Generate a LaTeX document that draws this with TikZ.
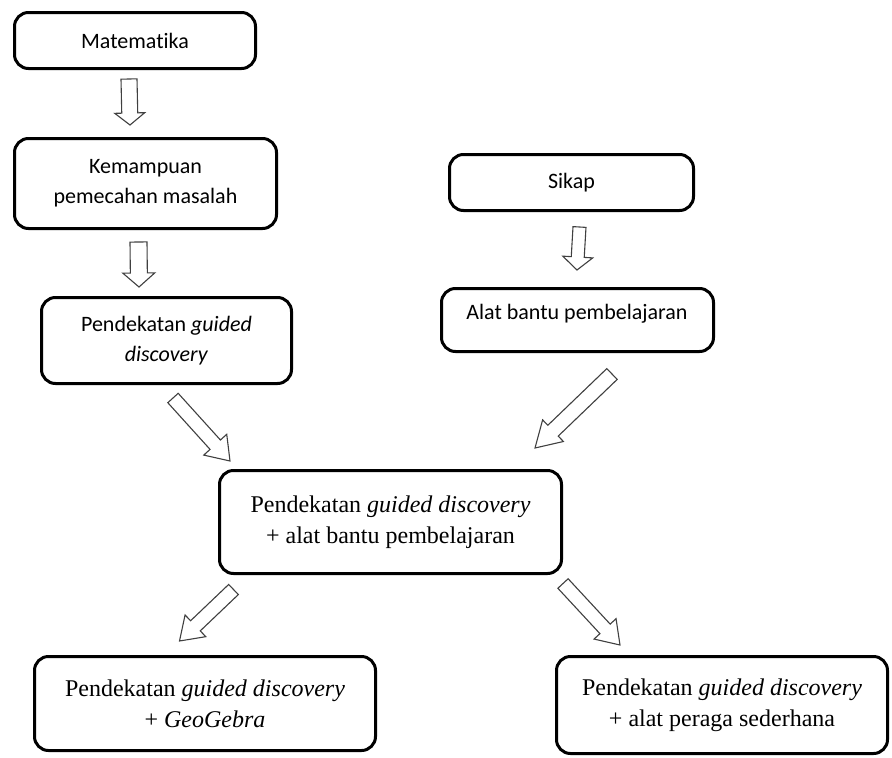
\documentclass[tikz,border=0pt]{standalone}
\usepackage{fontspec}
\setmainfont{Liberation Serif}
\newfontfamily\calfont[Ligatures=NoCommon]{Carlito}
\usetikzlibrary{calc}
\tikzset{
  box/.style={draw=black, line width=3pt, rounded corners=14pt, fill=white, align=center, inner sep=0pt},
  sansbox/.style={box, font=\calfont\fontsize{22}{30}\selectfont},
  serifbox/.style={box, font=\fontsize{24}{31}\selectfont},
  barrow/.style={draw=black!75, line width=1.1pt, fill=white, line join=miter}
}
\newcommand{\blockarrow}[5]{%
  \coordinate (hb) at ($(#2)!#5!(#1)$);
  \draw[barrow] ($(#1)!#3!90:(#2)$) -- ($(hb)!#3!90:(#2)$) -- ($(hb)!#4!90:(#2)$) -- (#2)
    -- ($(hb)!#4!-90:(#2)$) -- ($(hb)!#3!-90:(#2)$) -- ($(#1)!#3!-90:(#2)$) -- cycle;
}
\begin{document}
\begin{tikzpicture}[x=1pt,y=-1pt]
\useasboundingbox (0,0) rectangle (892,758);
% boxes
\node[sansbox, minimum width=241pt, minimum height=56pt] (mat) at (135,40.5) {Matematika};
\node[sansbox, minimum width=262pt, minimum height=90pt] (kem) at (145.5,183.5) {Kemampuan\\pemecahan masalah};
\node[sansbox, minimum width=250pt, minimum height=86pt] (pgd) at (166.5,340.5) {Pendekatan \textit{guided}\\\textit{discovery}};
\node[sansbox, minimum width=244pt, minimum height=56pt] (sik) at (571.5,182.5) {Sikap};
\node[sansbox, minimum width=272pt, minimum height=63pt] (alat) at (577.5,320) {};
\node[font=\calfont\fontsize{22}{30}\selectfont, inner sep=0pt] (alattxt) at (577,314) {Alat bantu pembelajaran};
\node[serifbox, minimum width=342pt, minimum height=103pt] (cen) at (390.5,522) {Pendekatan \textit{guided discovery}\\+ alat bantu pembelajaran};
\node[serifbox, minimum width=341pt, minimum height=94pt] (bl) at (205,703.5) {Pendekatan \textit{guided discovery}\\+ \textit{GeoGebra}};
\node[serifbox, minimum width=331pt, minimum height=97pt] (br) at (722,705) {Pendekatan \textit{guided discovery}\\+ alat peraga sederhana};
% arrow end points
\coordinate (a1s) at (129,79);   \coordinate (a1e) at (130,125);
\coordinate (a2s) at (138.5,242); \coordinate (a2e) at (139,287);
\coordinate (a3s) at (579.5,227); \coordinate (a3e) at (577,270);
\coordinate (a4s) at (173,398);  \coordinate (a4e) at (230,461);
\coordinate (a5s) at (612,374);  \coordinate (a5e) at (535,448);
\coordinate (a6s) at (233.5,589.5); \coordinate (a6e) at (179.5,641);
\coordinate (a7s) at (563,583.5); \coordinate (a7e) at (620,645);
\blockarrow{a1s}{a1e}{8pt}{15pt}{12pt}
\blockarrow{a2s}{a2e}{8.5pt}{16pt}{14pt}
\blockarrow{a3s}{a3e}{6.5pt}{15pt}{13pt}
\blockarrow{a4s}{a4e}{7pt}{15.5pt}{22pt}
\blockarrow{a5s}{a5e}{7.5pt}{15pt}{25pt}
\blockarrow{a6s}{a6e}{7pt}{15pt}{22pt}
\blockarrow{a7s}{a7e}{7pt}{15pt}{22pt}
\end{tikzpicture}
\end{document}
